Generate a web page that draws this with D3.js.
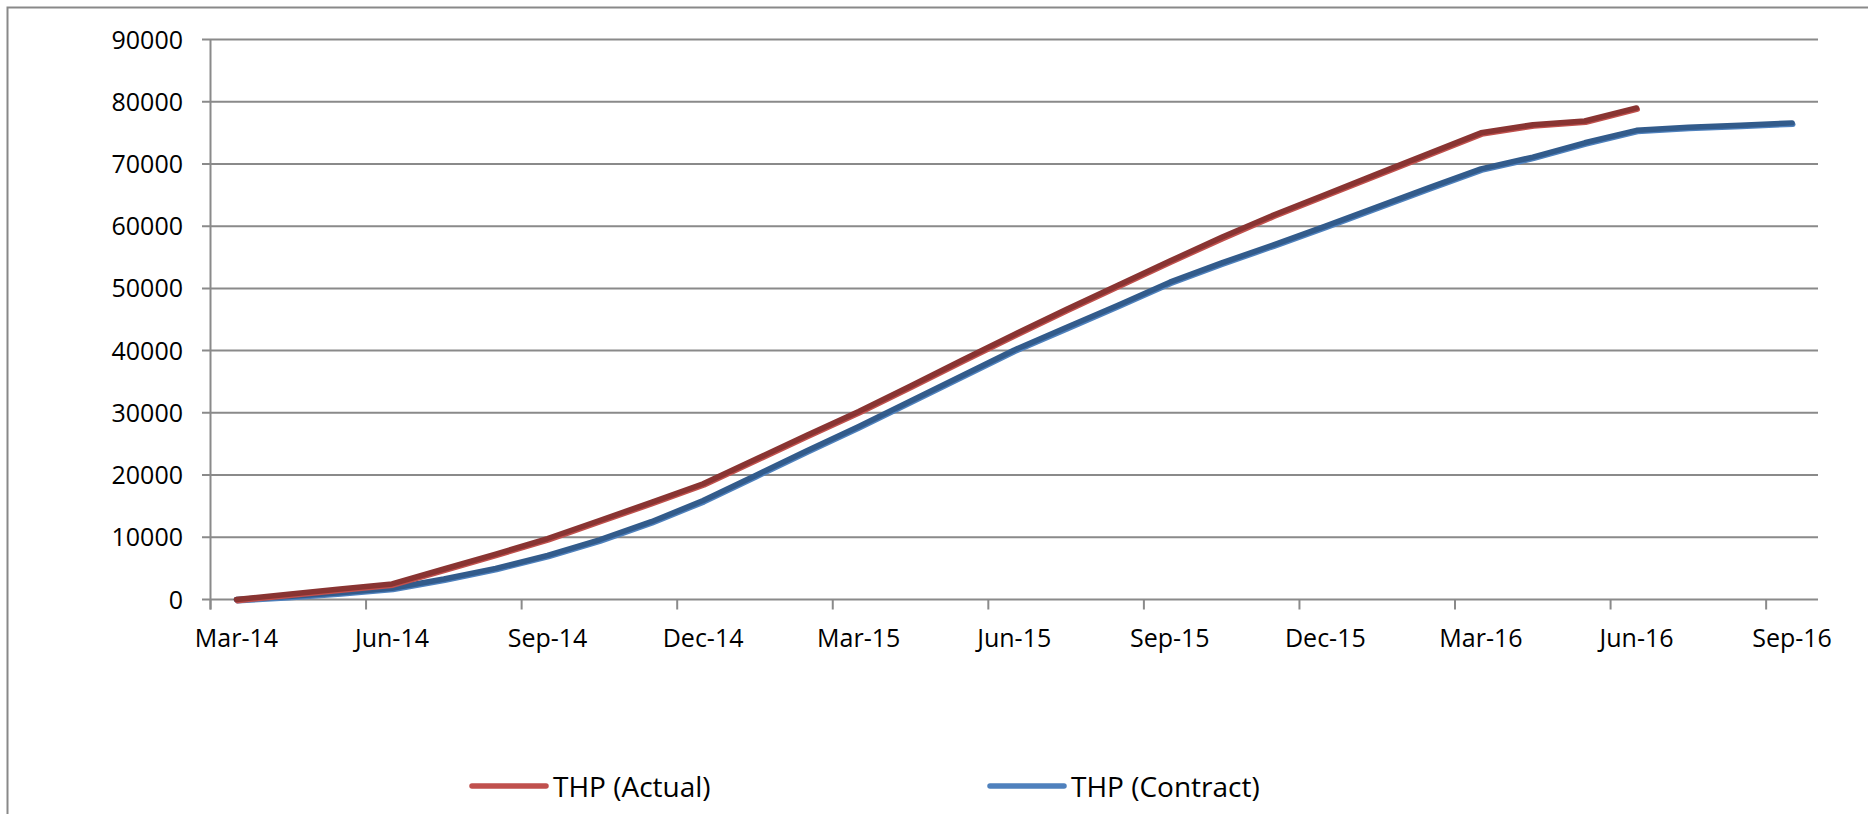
<!DOCTYPE html>
<html>
<head>
<meta charset="utf-8">
<script src="https://cdn.jsdelivr.net/npm/d3@7"></script>
<style>
  body { margin: 0; background: #fff; }
  text { font-family: "Open Sans", sans-serif; fill: #000; }
</style>
</head>
<body>
<script>
// months on the date axis (one band each)
var months = ["Mar-14","Apr-14","May-14","Jun-14","Jul-14","Aug-14","Sep-14","Oct-14","Nov-14","Dec-14",
  "Jan-15","Feb-15","Mar-15","Apr-15","May-15","Jun-15","Jul-15","Aug-15","Sep-15","Oct-15","Nov-15","Dec-15",
  "Jan-16","Feb-16","Mar-16","Apr-16","May-16","Jun-16","Jul-16","Aug-16","Sep-16"];

// labelled months (every third)
var tickMonths = ["Mar-14","Jun-14","Sep-14","Dec-14","Mar-15","Jun-15","Sep-15","Dec-15","Mar-16","Jun-16","Sep-16"];

var yTicks = [0,10000,20000,30000,40000,50000,60000,70000,80000,90000];

// THP (Actual), Mar-14 .. Jun-16
var actual = [0,850,1700,2500,4900,7300,9800,12700,15600,18600,
  22500,26400,30200,34300,38500,42600,46600,50500,54400,58200,61800,65100,
  68400,71700,75000,76300,76900,79000];

// THP (Contract), Mar-14 .. Sep-16
var contract = [0,500,1100,1800,3300,5000,7100,9600,12500,15900,
  19900,23900,27800,31900,36000,40100,43700,47300,51000,54100,57000,60000,
  63100,66200,69200,71100,73400,75400,75900,76200,76600];

var seriesNames = ["THP (Actual)", "THP (Contract)"];

var width = 1868;
var height = 814;

var svg = d3.select("body").append("svg")
    .attr("width", width)
    .attr("height", height);

// chart frame (right/bottom run off the picture)
svg.append("rect")
    .attr("x", 7.5).attr("y", 7.5)
    .attr("width", 1900).attr("height", 900)
    .attr("fill", "none")
    .attr("stroke", "#898989")
    .attr("stroke-width", 2);

var x = d3.scaleBand().domain(months).range([210.5, 1818]);
var y = d3.scaleLinear().domain([0, 90000]).range([599.5, 39.5]);
var bw = x.bandwidth();

var gridColor = "#8a8a8a";

// horizontal gridlines, with the little tick stub left of the axis
svg.selectAll("line.grid")
    .data(yTicks)
    .enter()
    .append("line")
    .attr("class", "grid")
    .attr("x1", 202)
    .attr("x2", 1818)
    .attr("y1", function(d) { return y(d); })
    .attr("y2", function(d) { return y(d); })
    .attr("stroke", gridColor)
    .attr("stroke-width", 2);

// y axis line
svg.append("line")
    .attr("x1", 210.5).attr("x2", 210.5)
    .attr("y1", y(90000)).attr("y2", y(0) + 10)
    .attr("stroke", gridColor)
    .attr("stroke-width", 2);

svg.selectAll("text.ylab")
    .data(yTicks)
    .enter()
    .append("text")
    .attr("class", "ylab")
    .attr("x", 183)
    .attr("y", function(d) { return y(d) + 9; })
    .attr("text-anchor", "end")
    .attr("font-size", 25)
    .text(function(d) { return d; });

// x ticks sit on band edges, labels on band centres
svg.selectAll("line.xtick")
    .data(tickMonths)
    .enter()
    .append("line")
    .attr("class", "xtick")
    .attr("x1", function(d) { return x(d); })
    .attr("x2", function(d) { return x(d); })
    .attr("y1", y(0))
    .attr("y2", y(0) + 10)
    .attr("stroke", gridColor)
    .attr("stroke-width", 2);

svg.selectAll("text.xlab")
    .data(tickMonths)
    .enter()
    .append("text")
    .attr("class", "xlab")
    .attr("x", function(d) { return x(d) + bw / 2; })
    .attr("y", 647)
    .attr("text-anchor", "middle")
    .attr("font-size", 25)
    .text(function(d) { return d; });

var line = d3.line()
    .x(function(d, i) { return x(months[i]) + bw / 2; })
    .y(function(d) { return y(d); });

var drawSeries = function(values, light, dark) {
  // light copy underneath gives the soft shadow edge
  svg.append("path")
      .attr("d", line(values))
      .attr("transform", "translate(1,1.5)")
      .attr("fill", "none")
      .attr("stroke", light)
      .attr("stroke-width", 5)
      .attr("stroke-linejoin", "round")
      .attr("stroke-linecap", "round");
  svg.append("path")
      .attr("d", line(values))
      .attr("fill", "none")
      .attr("stroke", dark)
      .attr("stroke-width", 5.5)
      .attr("stroke-linejoin", "round")
      .attr("stroke-linecap", "round");
};

drawSeries(contract, "#4f81bd", "#325b8b");
drawSeries(actual, "#c0504d", "#893432");

// legend
var legend = [
  { name: seriesNames[0], color: "#c0504d", x: 472 },
  { name: seriesNames[1], color: "#4f81bd", x: 990 }
];

var lg = svg.selectAll("g.legend")
    .data(legend)
    .enter()
    .append("g")
    .attr("class", "legend")
    .attr("transform", function(d) { return "translate(" + d.x + ",786)"; });

lg.append("line")
    .attr("x1", 0).attr("x2", 74)
    .attr("y1", 0).attr("y2", 0)
    .attr("stroke", function(d) { return d.color; })
    .attr("stroke-width", 5.5)
    .attr("stroke-linecap", "round");

lg.append("text")
    .attr("x", 81)
    .attr("y", 10.5)
    .attr("font-size", 28)
    .text(function(d) { return d.name; });
</script>
</body>
</html>
